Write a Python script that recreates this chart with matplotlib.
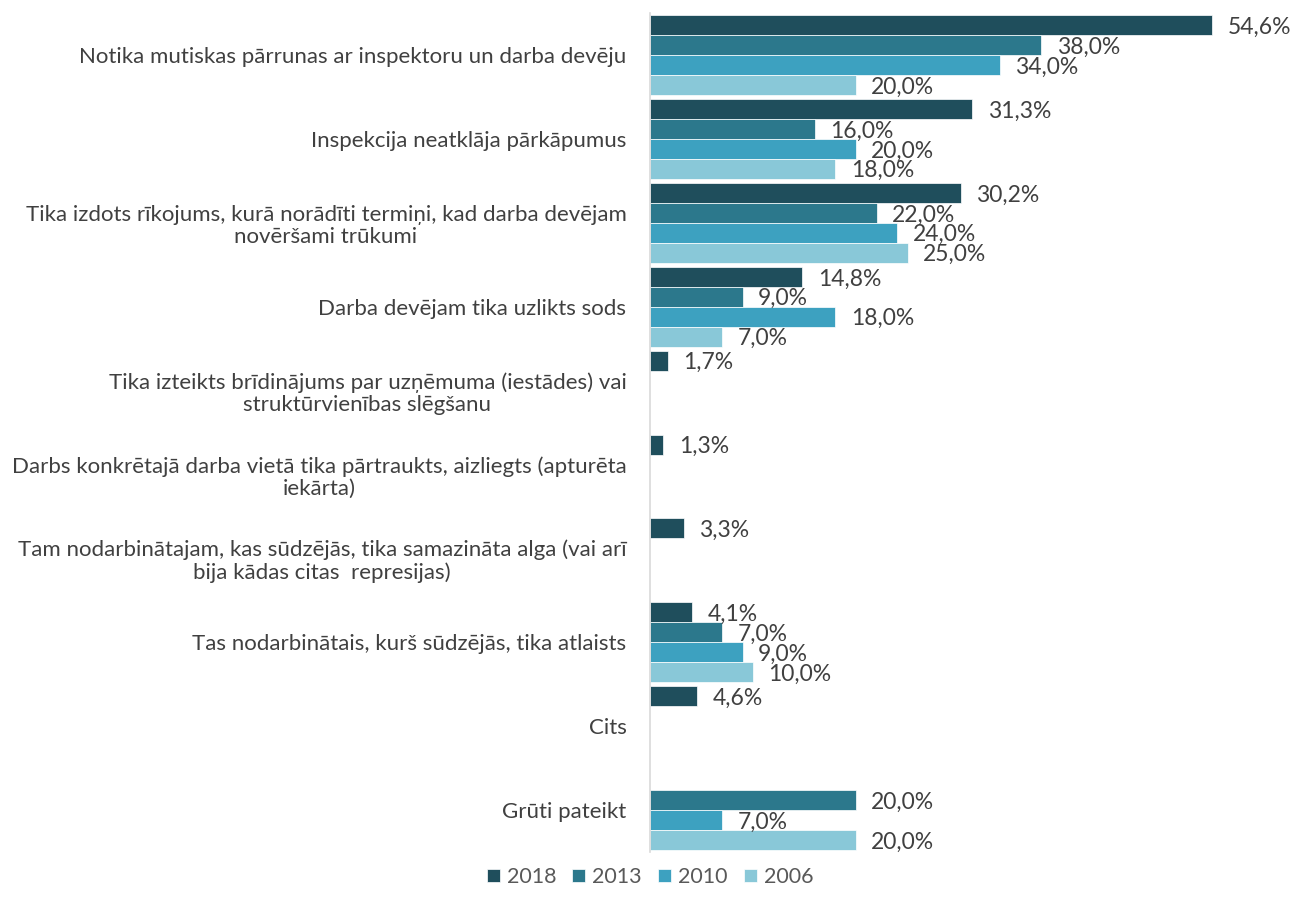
import numpy as np
import matplotlib
matplotlib.use("Agg")
import matplotlib.pyplot as plt

plt.rcParams['font.family'] = ['Lato', 'DejaVu Sans']

CATEGORIES = [
    "Notika mutiskas pārrunas ar inspektoru un darba devēju",
    "Inspekcija neatklāja pārkāpumus",
    "Tika izdots rīkojums, kurā norādīti termiņi, kad darba devējam\nnovēršami trūkumi",
    "Darba devējam tika uzlikts sods",
    "Tika izteikts brīdinājums par uzņēmuma (iestādes) vai\nstruktūrvienības slēgšanu",
    "Darbs konkrētajā darba vietā tika pārtraukts, aizliegts (apturēta\niekārta)",
    "Tam nodarbinātajam, kas sūdzējās, tika samazināta alga (vai arī\nbija kādas citas  represijas)",
    "Tas nodarbinātais, kurš sūdzējās, tika atlaists",
    "Cits",
    "Grūti pateikt",
]
YEARS = ["2018", "2013", "2010", "2006"]
nan = np.nan
V2018 = [54.6, 31.3, 30.2, 14.8, 1.7, 1.3, 3.3, 4.1, 4.6, nan]
V2013 = [38.0, 16.0, 22.0, 9.0, nan, nan, nan, 7.0, nan, 20.0]
V2010 = [34.0, 20.0, 24.0, 18.0, nan, nan, nan, 9.0, nan, 7.0]
V2006 = [20.0, 18.0, 25.0, 7.0, nan, nan, nan, 10.0, nan, 20.0]
SERIES = [V2018, V2013, V2010, V2006]
COLORS = ["#1f4e5c", "#2c788c", "#3da1c0", "#89c8d8"]

W, H = 1293, 913
fig = plt.figure(figsize=(W / 100, H / 100), dpi=100)
ax = fig.add_axes([650 / W, 61 / H, 618 / W, 839 / H])

y = np.arange(len(CATEGORIES))
h = 0.2375
for k, (vals, col, yr) in enumerate(zip(SERIES, COLORS, YEARS)):
    pos = y + (k - 1.5) * h
    vals = np.array(vals)
    ax.barh(pos, np.nan_to_num(vals), height=h, color=col, edgecolor="white",
            linewidth=0.5, label=yr)
    for p, v in zip(pos, vals):
        if np.isnan(v):
            continue
        ax.annotate(f"{v:.1f}%".replace(".", ","), (v, p), xytext=(11, -1.5),
                    textcoords="offset points", ha="left", va="center",
                    fontsize=16.5, color="#404040")

ax.set_ylim(len(CATEGORIES) - 0.5, -0.5)
ax.set_xlim(0, 60)
ax.set_yticks(y)
ax.set_yticklabels(CATEGORIES, fontsize=16, color="#404040", multialignment="center",
                   linespacing=1.15)
ax.tick_params(axis="y", length=0, pad=17)
ax.set_xticks([])
for s in ["top", "right", "bottom"]:
    ax.spines[s].set_visible(False)
ax.spines["left"].set_color("#d9d9d9")
ax.spines["left"].set_linewidth(1.2)

fig.legend(loc="center", bbox_to_anchor=(650 / W, 1 - 877 / H), ncol=4, frameon=False,
           fontsize=15.5, handlelength=0.6, handleheight=0.6, columnspacing=0.75,
           handletextpad=0.33, labelcolor="#595959")

fig.savefig("out.png", dpi=100)
